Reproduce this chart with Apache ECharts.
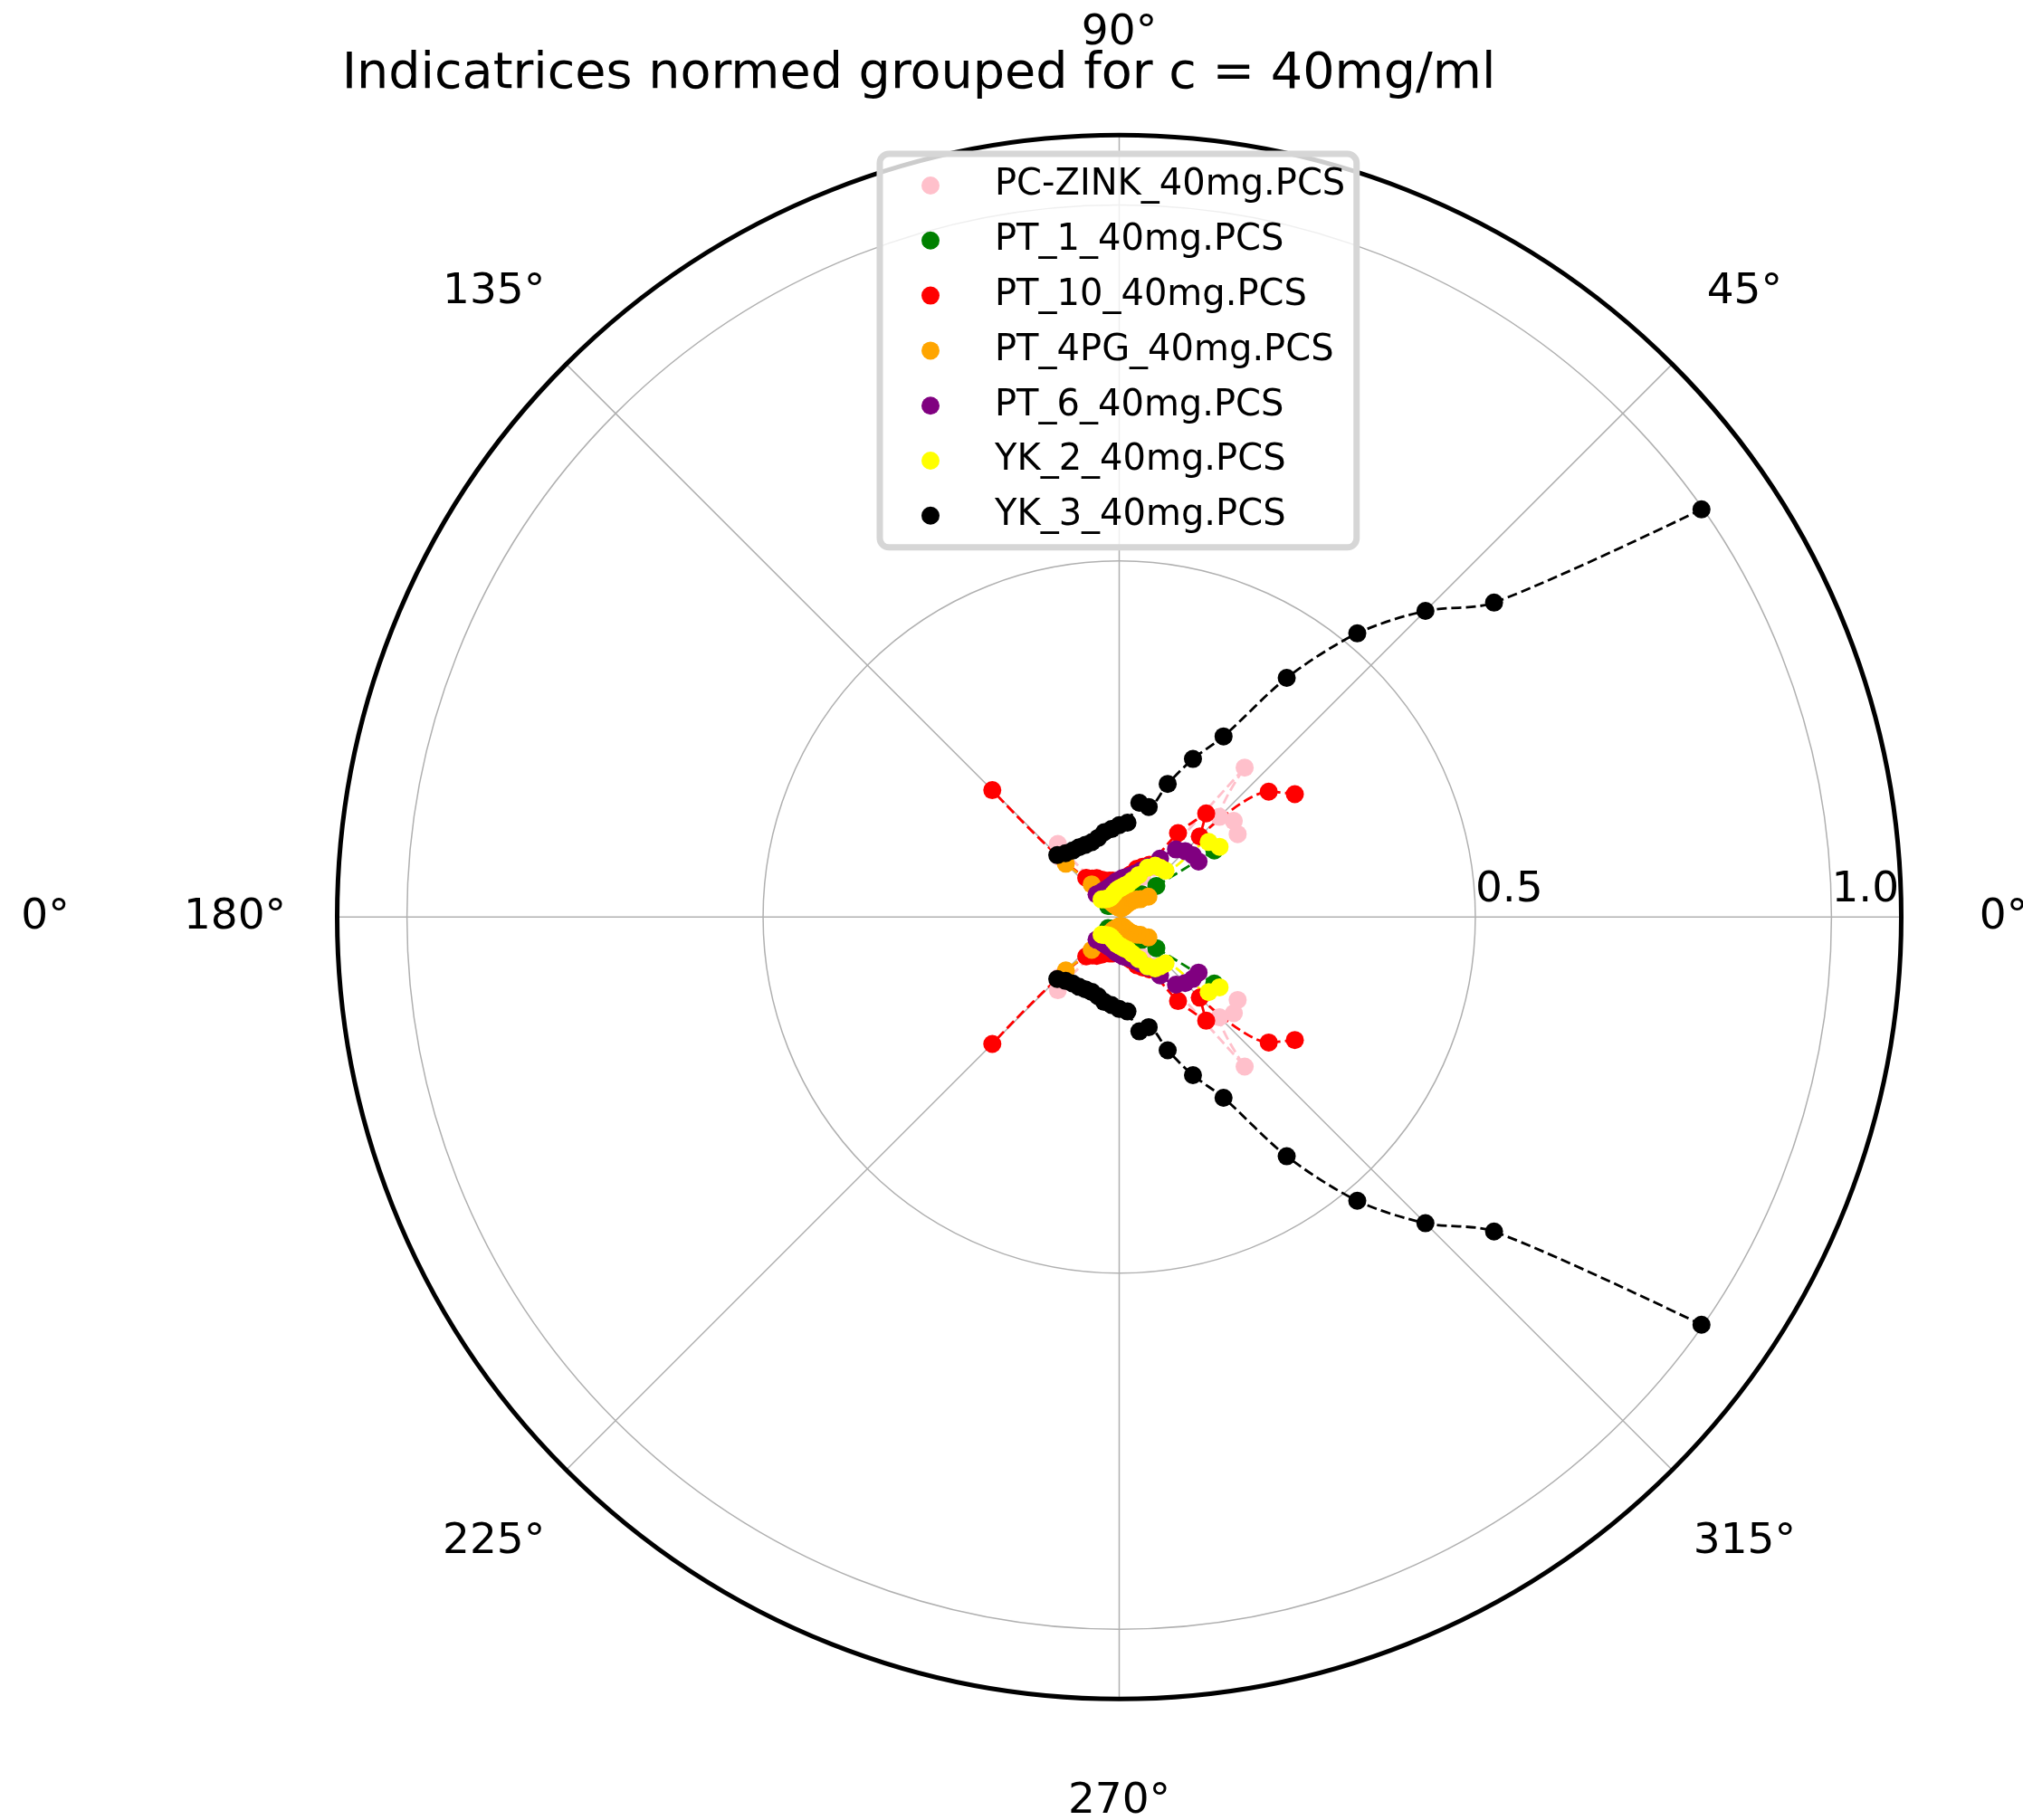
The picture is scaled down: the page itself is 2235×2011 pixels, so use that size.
<!DOCTYPE html>
<html><head><meta charset="utf-8">
<script src="https://cdn.jsdelivr.net/npm/echarts@6/dist/echarts.min.js"></script>
<style>html,body{margin:0;padding:0;background:#fff}#c{width:2235px;height:2011px}</style>
</head><body><div id="c"></div>
<script>
// scattering angles (degrees) of the upper half; lower half is plotted at 360 - angle
const angles = [35,40,45,50,55,60,65,70,75,80,85,90,95,100,105,110,115,120,125,130,135];

const seriesNames = ['PC-ZINK_40mg.PCS','PT_1_40mg.PCS','PT_10_40mg.PCS','PT_4PG_40mg.PCS','PT_6_40mg.PCS','YK_2_40mg.PCS','YK_3_40mg.PCS'];
const seriesColors = ['#ffc0cb','#008000','#ff0000','#ffa500','#800080','#ffff00','#000000'];

const pcZink = [0.203,0.210,0.199,0.274,0.085,0.065,0.055,0.045,0.040,0.035,0.030,0.028,0.028,0.030,0.032,0.035,0.040,0.045,0.055,0.134,0.120];
const pt1    = [0.163,0.068,0.045,0.035,0.030,0.025,0.022,0.020,0.018,0.017,0.016,0.016,0.016,0.017,0.018,0.018,0.019,0.020,0.020,0.021,0.022];
const pt10   = [0.301,0.274,0.160,0.190,0.144,0.085,0.078,0.072,0.062,0.057,0.053,0.050,0.050,0.052,0.053,0.054,0.058,0.063,0.066,0.072,0.252];
const pt4pg  = [0.050,0.039,0.035,0.030,0.025,0.020,0.016,0.014,0.013,0.013,0.013,0.013,0.014,0.015,0.016,0.018,0.020,0.025,0.035,0.060,0.106];
const pt6    = [0.136,0.135,0.131,0.124,0.100,0.082,0.072,0.065,0.060,0.057,0.055,0.052,0.050,0.047,0.045,0.044,0.043,0.043,0.043,0.043,0.045];
const yk2    = [0.172,0.164,0.092,0.090,0.088,0.080,0.065,0.055,0.048,0.045,0.042,0.040,0.038,0.035,0.033,0.031,0.030,0.030,0.031,0.033,0.035];
const yk3    = [0.998,0.687,0.608,0.520,0.410,0.293,0.245,0.199,0.160,0.163,0.133,0.129,0.124,0.121,0.115,0.112,0.112,0.113,0.114,0.117,0.123];

const seriesValues = [pcZink, pt1, pt10, pt4pg, pt6, yk2, yk3];

const angleTickValues = [0,45,90,135,180,225,270,315];
const angleTickLabels = ['0°','45°','90°','135°','180°','225°','270°','315°'];
const extraLabel = '0°';
const radiusTickValues = [0.5, 1.0];
const titleText = 'Indicatrices normed grouped for c = 40mg/ml';

const CX = 1236.5, CY = 1013.3, RAD = 864, RMAX = 1.098;
const FONT = 'DejaVu Sans';

const chart = echarts.init(document.getElementById('c'), null, {renderer: 'canvas'});

const series = [];
seriesValues.forEach((vals, k) => {
  const upper = angles.map((a, i) => [vals[i], a]);
  const lower = angles.map((a, i) => [vals[i], 360 - a]);
  [upper, lower].forEach(d => {
    series.push({
      name: seriesNames[k],
      type: 'line',
      coordinateSystem: 'polar',
      data: d,
      symbol: 'circle',
      symbolSize: 20,
      showSymbol: true,
      smooth: 0.3,
      clip: false,
      lineStyle: {color: seriesColors[k], width: 2.8, type: [11, 5]},
      itemStyle: {color: seriesColors[k]},
      emphasis: {disabled: true},
      z: 2
    });
  });
});

const graphics = angleTickValues.map((v, i) => {
  const R = 977;
  const a = v * Math.PI / 180;
  return {
    type: 'text',
    x: CX + R * Math.cos(a),
    y: CY - R * Math.sin(a),
    style: {text: angleTickLabels[i], font: '47px "DejaVu Sans"', fill: '#000', align: 'center', verticalAlign: 'middle'}
  };
});
graphics.push({
  type: 'text', x: 50, y: CY,
  style: {text: extraLabel, font: '47px "DejaVu Sans"', fill: '#000', align: 'center', verticalAlign: 'middle'}
});

chart.setOption({
  animation: false,
  backgroundColor: '#ffffff',
  title: {
    text: titleText,
    left: 1010, top: 50, textAlign: 'center',
    textStyle: {fontFamily: FONT, fontSize: 55.6, fontWeight: 'normal', color: '#000'}
  },
  polar: {center: [CX, CY], radius: RAD},
  angleAxis: {
    type: 'value', min: 0, max: 360, interval: 45, startAngle: 0, clockwise: false,
    axisLine: {show: true, lineStyle: {color: '#000', width: 5}},
    axisTick: {show: false},
    axisLabel: {show: false},
    splitLine: {show: true, lineStyle: {color: '#b0b0b0', width: 1.5}}
  },
  radiusAxis: {
    type: 'value', min: 0, max: RMAX, interval: 0.5,
    axisLine: {show: false},
    axisTick: {show: false},
    axisLabel: {
      show: true, showMinLabel: false, showMaxLabel: false,
      margin: 6, align: 'left', verticalAlign: 'bottom',
      fontFamily: FONT, fontSize: 47, color: '#000',
      formatter: v => radiusTickValues.indexOf(v) >= 0 ? v.toFixed(1) : ''
    },
    splitLine: {show: true, lineStyle: {color: '#b0b0b0', width: 1.5}}
  },
  legend: {
    orient: 'vertical', left: 972, top: 170,
    data: seriesNames.map((n, i) => ({name: n, icon: 'circle', itemStyle: {color: seriesColors[i]}})),
    itemWidth: 20, itemHeight: 20, itemGap: 12.8,
    selectedMode: false,
    textStyle: {fontFamily: FONT, fontSize: 40, color: '#000', lineHeight: 48, padding: [0, 0, 0, 56]},
    padding: [11, 12.5, 11, 46],
    borderColor: '#d6d6d6', borderWidth: 7, borderRadius: 10,
    backgroundColor: 'rgba(255,255,255,0.8)', z: 10
  },
  graphic: graphics,
  series: series
});
</script></body></html>
